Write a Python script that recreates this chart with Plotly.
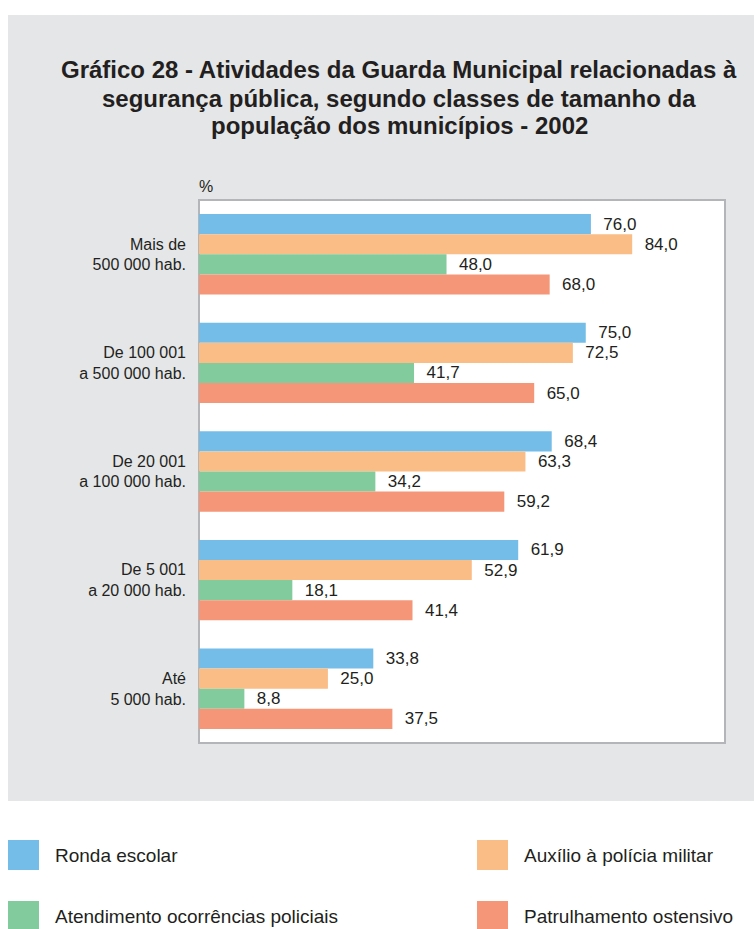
import plotly.graph_objects as go

categories = ["Mais de<br>500 000 hab.", "De 100 001<br>a 500 000 hab.", "De 20 001<br>a 100 000 hab.",
              "De 5 001<br>a 20 000 hab.", "Até<br>5 000 hab."]
series_names = ["Ronda escolar", "Auxílio à polícia militar", "Atendimento ocorrências policiais", "Patrulhamento ostensivo"]
ronda = [76.0, 75.0, 68.4, 61.9, 33.8]
auxilio = [84.0, 72.5, 63.3, 52.9, 25.0]
atendimento = [48.0, 41.7, 34.2, 18.1, 8.8]
patrulhamento = [68.0, 65.0, 59.2, 41.4, 37.5]
title_lines = ["Gráfico 28 - Atividades da Guarda Municipal relacionadas à",
               "segurança pública, segundo classes de tamanho da",
               "população dos municípios - 2002"]
colors = ["#74bde8", "#fbbd86", "#82cb9c", "#f59678"]

FONT = "Liberation Sans, Arial, sans-serif"
W, H = 754, 929
L, R, T, B = 199, 29, 200, 186
pw, ph = W - L - R, H - T - B

def px_x(x):
    return (x - L) / pw

def px_y(y):
    return (H - B - y) / ph

fig = go.Figure()
for name, vals, col in zip(series_names, [ronda, auxilio, atendimento, patrulhamento], colors):
    fig.add_trace(go.Bar(
        y=categories, x=vals, name=name, orientation="h",
        marker=dict(color=col, line=dict(width=0)),
        text=["\u00a0\u00a0" + f"{v:.1f}".replace(".", ",") for v in vals],
        textposition="outside", cliponaxis=False,
        textfont=dict(size=17, color="#231f20", family=FONT),
        showlegend=False, hoverinfo="skip",
    ))

shapes = [
    dict(type="rect", xref="paper", yref="paper", x0=px_x(8), x1=px_x(754), y0=px_y(15), y1=px_y(801),
         fillcolor="#e5e6e8", line=dict(width=0), layer="below"),
    dict(type="rect", xref="paper", yref="paper", x0=0, x1=1, y0=0, y1=1,
         fillcolor="white", line=dict(color="#b4b5b8", width=2), layer="below"),
]
annotations = []
for i, line in enumerate(title_lines):
    annotations.append(dict(text="<b>" + line + "</b>", xref="paper", yref="paper",
                            x=px_x(399), y=px_y(70 + 28 * i), xanchor="center", yanchor="middle",
                            showarrow=False, font=dict(size=24, color="#231f20", family=FONT)))
annotations.append(dict(text="%", xref="paper", yref="paper", x=px_x(197), y=px_y(186), xanchor="left",
                        yanchor="middle", showarrow=False, font=dict(size=16, color="#231f20", family=FONT)))

# manual legend with large swatches
leg_pos = [(8, 855), (477, 855), (8, 916), (477, 916)]
for (lx, ly), name, col in zip(leg_pos, series_names, colors):
    shapes.append(dict(type="rect", xref="paper", yref="paper", x0=px_x(lx), x1=px_x(lx + 31),
                       y0=px_y(ly - 15), y1=px_y(ly + 15), fillcolor=col, line=dict(width=0)))
    annotations.append(dict(text=name, xref="paper", yref="paper", x=px_x(lx + 45), y=px_y(ly),
                            xanchor="left", yanchor="middle", showarrow=False,
                            font=dict(size=19, color="#231f20", family=FONT)))

fig.update_layout(
    width=W, height=H,
    margin=dict(l=L, r=R, t=T, b=B),
    paper_bgcolor="white", plot_bgcolor="rgba(0,0,0,0)",
    barmode="group", bargap=0.26, bargroupgap=0,
    shapes=shapes, annotations=annotations,
    font=dict(family=FONT, color="#231f20"),
    xaxis=dict(range=[0, 102], showgrid=False, zeroline=False, showticklabels=False, ticks="",
               fixedrange=True),
    yaxis=dict(autorange="reversed", showgrid=False, zeroline=False, ticks="",
               ticklabelstandoff=12, tickfont=dict(size=16, color="#231f20"), fixedrange=True),
)

fig.write_html("out.html", config={"displayModeBar": False},
               post_script="document.body.style.margin='0';document.body.style.padding='0';")
